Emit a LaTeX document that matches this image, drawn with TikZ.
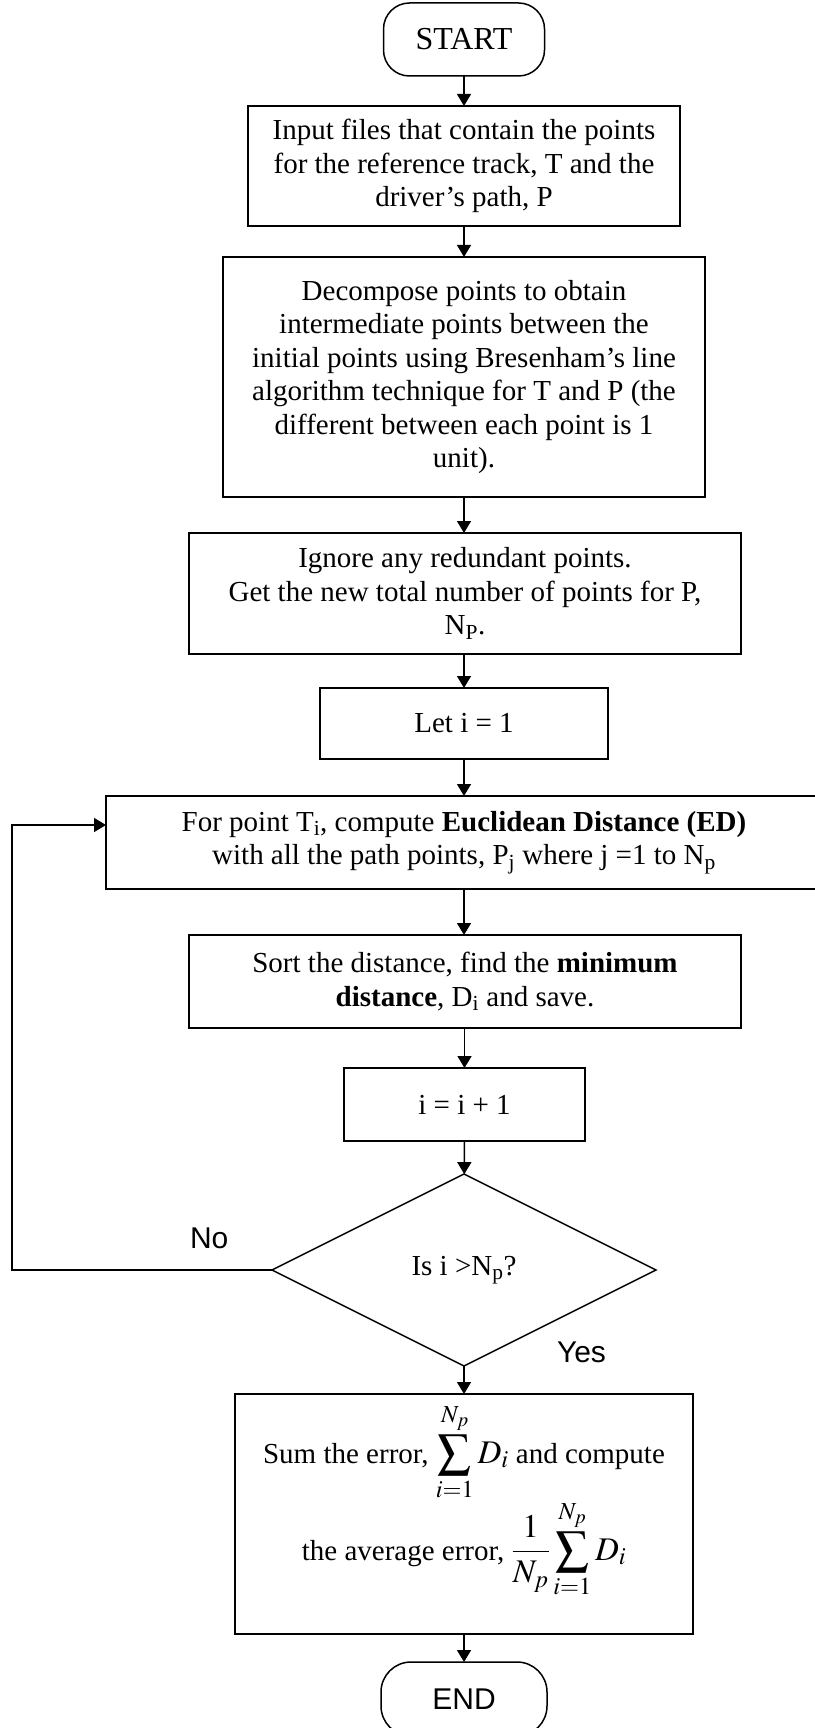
\documentclass[tikz,border=0pt]{standalone}
\usepackage{mathptmx}
\usepackage{fontspec}
\setmainfont{Liberation Serif}
\newfontfamily\arialfont{Liberation Sans}
\usetikzlibrary{shapes.geometric,arrows.meta}
\begin{document}
\begin{tikzpicture}[x=1pt,y=-1pt,
  every node/.style={inner sep=0pt, outer sep=0pt},
  txt/.style={font=\fontsize{29}{33.5}\selectfont},
  box/.style={draw, line width=1.5pt, rectangle, align=center, txt},
  term/.style={draw, line width=1.5pt, rectangle, rounded corners=26pt},
  decis/.style={draw, line width=1.5pt, diamond, minimum width=384pt, minimum height=192pt, txt},
  arr/.style={line width=1.5pt, -{Triangle[length=12pt,width=14pt]}},
  lbl/.style={font=\arialfont\fontsize{30}{34}\selectfont, anchor=base west}
]
\useasboundingbox (0,0) rectangle (814,1728);

\node[term, minimum width=161pt, minimum height=73pt, font=\fontsize{32}{36}\selectfont] (start) at (464,39.5) {START};
\node[box, minimum width=432pt, minimum height=120pt] (input) at (464,166) {Input files that contain the points\\for the reference track, T and the\\driver's path, P};
\node[box, minimum width=482pt, minimum height=240pt] (decomp) at (464,377) {Decompose points to obtain\\intermediate points between the\\initial points using Bresenham's line\\algorithm technique for T and P (the\\different between each point is 1\\unit).};
\node[box, minimum width=552pt, minimum height=121pt] (ignore) at (465,593.5) {Ignore any redundant points.\\Get the new total number of points for P,\\N\textsubscript{P}.};
\node[box, minimum width=288pt, minimum height=71pt] (let) at (464,723.5) {Let i = 1};
\node[box, minimum width=716pt, minimum height=93pt] (for) at (464,842.5) {For point T\textsubscript{i}, compute \textbf{Euclidean Distance (ED)}\\with all the path points, P\textsubscript{j} where j =1 to N\textsubscript{p}};
\node[box, minimum width=552pt, minimum height=93pt] (sort) at (465,981.5) {Sort the distance, find the \textbf{minimum}\\\textbf{distance}, D\textsubscript{i} and save.};
\node[box, minimum width=241pt, minimum height=73pt] (inc) at (464.5,1104.5) {i = i + 1};
\node[decis] (dec) at (464,1270) {Is i {>}N\textsubscript{p}?};
\node[draw, line width=1.5pt, rectangle, minimum width=458pt, minimum height=240pt] (final) at (464,1514) {};
\node[txt, anchor=base] (sumline) at (464,1463) {Sum the error, {\fontsize{33}{33}\selectfont$\displaystyle\sum_{i=1}^{N_p} D_i$} and compute};
\node[txt, anchor=base] (avgline) at (464,1560) {the average error, {\fontsize{33}{33}\selectfont$\displaystyle\frac{1}{N_p}\sum_{i=1}^{N_p} D_i$}};
\node[term, rounded corners=30pt, minimum width=166pt, minimum height=74pt, font=\arialfont\fontsize{30}{34}\selectfont] (end) at (464,1699) {END};

\node[lbl] (no) at (190,1248) {No};
\node[lbl] (yes) at (557,1362) {Yes};

\coordinate (loopc) at (12,825);

\draw[arr] (start) -- (input);
\draw[arr] (input) -- (decomp);
\draw[arr] (decomp) -- (ignore.north -| decomp.south);
\draw[arr] (ignore.south -| let.north) -- (let);
\draw[arr] (let) -- (for);
\draw[arr] (for) -- (sort.north -| for.south);
\draw[arr] (sort.south -| inc.north) -- (inc);
\draw[arr] (inc) -- (dec);
\draw[arr] (dec) -- (final);
\draw[arr] (final) -- (end);
\draw[arr] (dec.west) -| (loopc) -- (loopc -| for.west);
\end{tikzpicture}
\end{document}
